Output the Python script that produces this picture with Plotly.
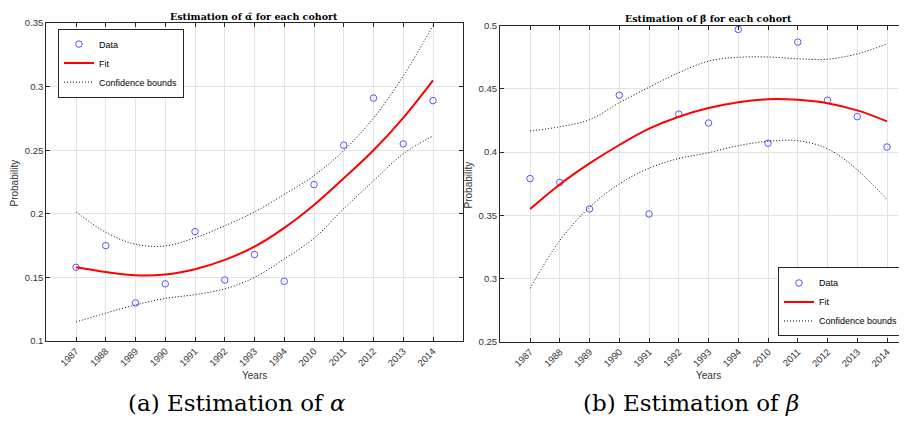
import plotly.graph_objects as go

years = ["1987", "1988", "1989", "1990", "1991", "1992", "1993", "1994",
         "2010", "2011", "2012", "2013", "2014"]

alpha_data = [0.158, 0.175, 0.130, 0.145, 0.186, 0.148, 0.168, 0.147,
              0.223, 0.254, 0.291, 0.255, 0.289]
alpha_fit = [0.158, 0.1543, 0.1517, 0.1523, 0.1565, 0.1638, 0.1742, 0.189,
             0.207, 0.228, 0.250, 0.2755, 0.305]
alpha_upper = [0.2015, 0.1855, 0.1761, 0.1748, 0.1812, 0.1906, 0.2015, 0.2153,
               0.230, 0.2498, 0.2753, 0.3084, 0.348]
alpha_lower = [0.115, 0.122, 0.1284, 0.1335, 0.1365, 0.141, 0.150, 0.1646,
               0.1808, 0.204, 0.226, 0.2472, 0.2612]

beta_data = [0.379, 0.376, 0.355, 0.445, 0.351, 0.430, 0.423, 0.497,
             0.407, 0.487, 0.441, 0.428, 0.404]
beta_fit = [0.355, 0.3744, 0.391, 0.4056, 0.4185, 0.428, 0.4348, 0.4395,
            0.4418, 0.4413, 0.4387, 0.433, 0.4243]
beta_upper = [0.4167, 0.420, 0.4256, 0.439, 0.4513, 0.4628, 0.472, 0.475,
              0.4752, 0.4738, 0.4735, 0.4777, 0.4856]
beta_lower = [0.2922, 0.330, 0.3564, 0.3748, 0.3872, 0.3949, 0.3995, 0.4051,
              0.4085, 0.409, 0.4026, 0.3859, 0.3623]

alpha_ticks = [0.1, 0.15, 0.2, 0.25, 0.3, 0.35]
alpha_ticktext = ["0.1", "0.15", "0.2", "0.25", "0.3", "0.35"]
beta_ticks = [0.25, 0.3, 0.35, 0.4, 0.45, 0.5]
beta_ticktext = ["0.25", "0.3", "0.35", "0.4", "0.45", "0.5"]

W, H = 907, 427
OX, OY = 8, 8  # page body margin offset


def px(x):
    return (x - OX) / W


def py(y):
    return 1 - (y - OY) / H


MARK = "rgb(85,85,255)"
AX = "#262626"
SANS = "Liberation Sans, Arial, sans-serif"
SERIF = "DejaVu Serif, serif"
DOT = "1px,2px"

fig = go.Figure()


def add_panel(data, fit, up, lo, xa, ya, leg):
    fig.add_trace(go.Scatter(x=years, y=data, mode="markers", name="Data",
                             marker=dict(symbol="circle-open", size=6.5, color=MARK,
                                         line=dict(width=1, color=MARK)),
                             xaxis=xa, yaxis=ya, legend=leg))
    fig.add_trace(go.Scatter(x=years, y=fit, mode="lines", name="Fit",
                             line=dict(color="red", width=2, shape="spline"),
                             xaxis=xa, yaxis=ya, legend=leg))
    fig.add_trace(go.Scatter(x=years, y=up, mode="lines", name="Confidence bounds",
                             line=dict(color="black", width=1, dash=DOT, shape="spline"),
                             xaxis=xa, yaxis=ya, legend=leg))
    fig.add_trace(go.Scatter(x=years, y=lo, mode="lines", name="Confidence bounds",
                             showlegend=False,
                             line=dict(color="black", width=1, dash=DOT, shape="spline"),
                             xaxis=xa, yaxis=ya, legend=leg))


add_panel(alpha_data, alpha_fit, alpha_upper, alpha_lower, "x", "y", "legend")
add_panel(beta_data, beta_fit, beta_upper, beta_lower, "x2", "y2", "legend2")

common_x = dict(type="category", showgrid=True, gridcolor="#e3e3e3", gridwidth=1,
                showline=True, linecolor=AX, linewidth=1, ticks="inside",
                ticklen=4, tickcolor=AX, tickangle=-45,
                tickfont=dict(family=SANS, size=9.5, color="#333333"),
                zeroline=False, mirror="ticks")
common_y = dict(showgrid=True, gridcolor="#e3e3e3", gridwidth=1,
                showline=True, linecolor=AX, linewidth=1, ticks="inside",
                ticklen=4, tickcolor=AX,
                tickfont=dict(family=SANS, size=9.5, color="#333333"),
                zeroline=False)

leg_common = dict(bgcolor="white", bordercolor=AX, borderwidth=1,
                  font=dict(family=SANS, size=9, color="black"),
                  tracegroupgap=0, itemwidth=30)

fig.update_layout(
    width=W, height=H,
    margin=dict(l=0, r=0, t=0, b=0),
    paper_bgcolor="white", plot_bgcolor="white",
    xaxis=dict(common_x, domain=[px(46.25), px(462.75)], range=[-1, 13],
               anchor="y"),
    yaxis=dict(common_y, domain=[py(343.7), py(17.3)], range=[0.1, 0.35],
               tickvals=alpha_ticks, ticktext=alpha_ticktext, mirror="ticks",
               anchor="x"),
    xaxis2=dict(common_x, domain=[px(500), 1.0], range=[-1.01, 12.94],
                anchor="y2"),
    yaxis2=dict(common_y, domain=[py(344.3), py(20)], range=[0.25, 0.5],
                tickvals=beta_ticks, ticktext=beta_ticktext, mirror=False,
                anchor="x2"),
    legend=dict(leg_common, x=px(58), y=py(23), xanchor="left", yanchor="top"),
    legend2=dict(leg_common, x=px(904), y=py(339), xanchor="right", yanchor="bottom"),
    showlegend=True,
)

TFONT = dict(family="DejaVu Serif, serif", size=9.5, color="black")
LFONT = dict(family=SANS, size=10, color="#333333")
CFONT = dict(family=SERIF, size=23, color="black")
annotations = [
    dict(text="<b>Estimation of α̂ for each cohort</b>", x=px(254.5), y=py(10.5), font=TFONT),
    dict(text="<b>Estimation of β̂ for each cohort</b>", x=px(708), y=py(12.5), font=TFONT),
    dict(text="Probability", x=px(15), y=py(182), textangle=-90, font=LFONT),
    dict(text="Probability", x=px(468), y=py(183), textangle=-90, font=LFONT),
    dict(text="Years", x=px(254.5), y=py(379), font=LFONT),
    dict(text="Years", x=px(708), y=py(379), font=LFONT),
    dict(text="(a) Estimation of <i>α</i>", x=px(237), y=py(407), font=CFONT),
    dict(text="(b) Estimation of <i>β</i>", x=px(691), y=py(407), font=CFONT),
]
for a in annotations:
    a.update(xref="paper", yref="paper", showarrow=False,
             xanchor="center", yanchor="middle")
fig.update_layout(annotations=annotations)

fig.write_html("out.html")
